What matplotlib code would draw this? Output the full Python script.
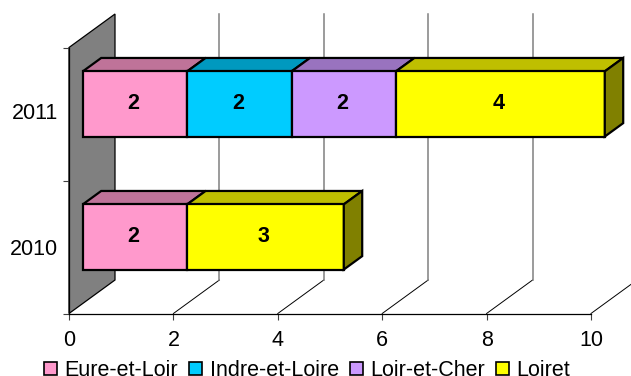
# Stacked bar chart with a fake Excel style 3D look
import matplotlib
matplotlib.use('Agg')
import matplotlib.pyplot as plt
from matplotlib.patches import Polygon, Patch

plt.rcParams['font.family'] = ['Liberation Sans', 'DejaVu Sans']

# Data
years = ['2010', '2011']
departments = ['Eure-et-Loir', 'Indre-et-Loire', 'Loir-et-Cher', 'Loiret']
values_2010 = [2, 0, 0, 3]
values_2011 = [2, 2, 2, 4]
x_ticks = [0, 2, 4, 6, 8, 10]

# Colours of front and top faces
front_colors = ['#FF99CC', '#00CCFF', '#CC99FF', '#FFFF00']
top_colors = ['#BF7399', '#0099BF', '#9973BF', '#BFBF00']
side_color = '#808000'

W, H = 631, 376
fig = plt.figure(figsize=(W / 100, H / 100), dpi=100)
# front plane of the chart, in pixels
left, right, top, bottom = 69, 591, 47.5, 313.5
ax = fig.add_axes([left / W, (H - bottom) / H, (right - left) / W, (bottom - top) / H])
ax.set_xlim(0, 10)
ax.set_ylim(0, 2)

# Depth of the box, in data units
depth_x = 46 / ((right - left) / 10)
depth_y = 33.5 / ((bottom - top) / 2)

def pt(x, y, d):
	return (x + d * depth_x, y + d * depth_y)

def face(points, color, lw, z):
	ax.add_patch(Polygon(points, closed=True, facecolor=color, edgecolor='black',
		linewidth=lw, joinstyle='miter', clip_on=False, zorder=z))

# Grey wall on the left
face([pt(0, 0, 0), pt(0, 0, 1), pt(0, 2, 1), pt(0, 2, 0)], '#808080', 0.9, 1)

# Gridlines: diagonal on the floor, then up the back
for t in x_ticks[1:]:
	p0, p1, p2 = pt(t, 0, 0), pt(t, 0, 1), pt(t, 2, 1)
	ax.plot([p0[0], p1[0]], [p0[1], p1[1]], color='black', lw=0.7, clip_on=False, zorder=2)
	ax.plot([p1[0], p2[0]], [p1[1], p2[1]], color='#808080', lw=1.1, clip_on=False, zorder=2)

# Boxes
bar_height = 0.49
d0, d1 = 0.3, 0.7
for row, vals in enumerate([values_2010, values_2011]):
	y0 = row + 0.5 - bar_height / 2
	y1 = y0 + bar_height
	start = 0
	last_end = sum(vals)
	for i, v in enumerate(vals):
		if v == 0:
			continue
		end = start + v
		face([pt(start, y1, d0), pt(start, y1, d1), pt(end, y1, d1), pt(end, y1, d0)],
			top_colors[i], 1.6, 3)
		face([pt(start, y0, d0), pt(end, y0, d0), pt(end, y1, d0), pt(start, y1, d0)],
			front_colors[i], 1.6, 4)
		cx, cy = pt((start + end) / 2, row + 0.5, d0)
		ax.text(cx - 0.03, cy, str(v), ha='center', va='center', fontsize=15.5,
			fontweight='bold', color='black', zorder=6)
		start = end
	face([pt(last_end, y0, d0), pt(last_end, y0, d1), pt(last_end, y1, d1), pt(last_end, y1, d0)],
		side_color, 1.6, 5)

# Axes
for s in ['top', 'right']:
	ax.spines[s].set_visible(False)
ax.patch.set_visible(False)
ax.spines['left'].set_linewidth(0.9)
ax.spines['bottom'].set_linewidth(0.9)
ax.set_xticks(x_ticks)
ax.tick_params(axis='x', length=4.5, width=0.8, pad=7.5, labelsize=15.5, color='#404040')
ax.set_yticks([0, 1, 2])
ax.set_yticklabels(['', '', ''])
ax.set_yticks([0.5, 1.52], minor=True)
ax.set_yticklabels(years, minor=True)
ax.tick_params(axis='y', which='major', length=4.5, width=0.8, color='#404040')
ax.tick_params(axis='y', which='minor', length=0, pad=8, labelsize=15.5)

# Legend
handles = [Patch(facecolor=c, edgecolor='black', linewidth=1.2) for c in front_colors]
fig.legend(handles, departments, ncol=4, loc='lower left', bbox_to_anchor=(44 / W, -5 / H),
	frameon=False, fontsize=15.5, handlelength=0.6, handleheight=0.6, handletextpad=0.36,
	columnspacing=0.5, borderpad=0, borderaxespad=0)

fig.savefig('out.png', dpi=100)
